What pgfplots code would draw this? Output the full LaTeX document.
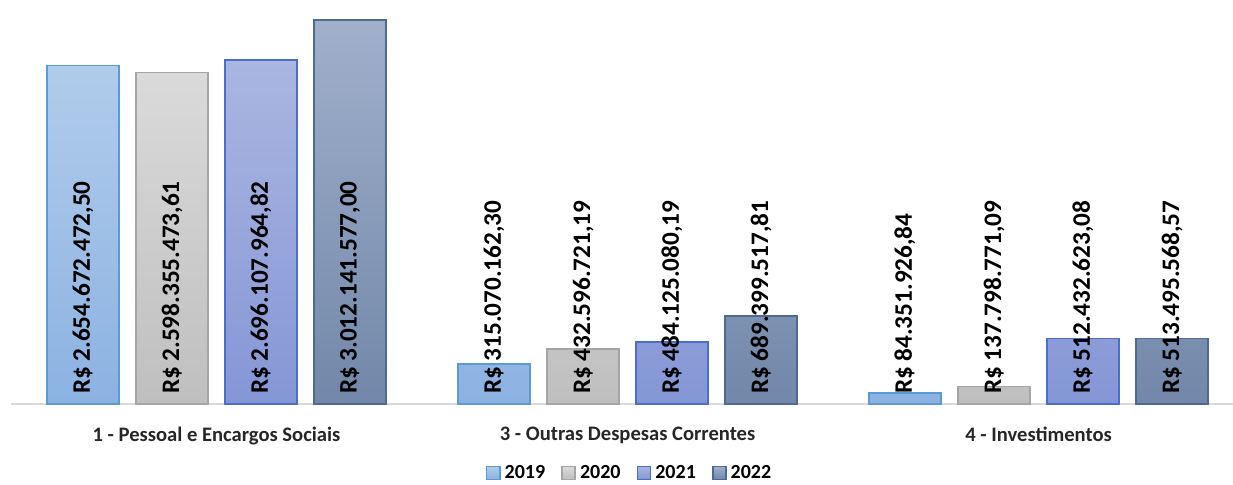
\documentclass[border=0pt]{standalone}
\usepackage{fontspec}
\setmainfont{Carlito}
\usepackage{pgfplots}
\pgfplotsset{compat=1.18}
\definecolor{t19}{HTML}{B0CCEB}\definecolor{b19}{HTML}{8CB2E2}\definecolor{d19}{HTML}{5B9BD5}
\definecolor{t20}{HTML}{DADADA}\definecolor{b20}{HTML}{BFBFBF}\definecolor{d20}{HTML}{A5A5A5}
\definecolor{t21}{HTML}{AAB6E1}\definecolor{b21}{HTML}{8596D6}\definecolor{d21}{HTML}{4A6FCA}
\definecolor{t22}{HTML}{A0B0CB}\definecolor{b22}{HTML}{7287A9}\definecolor{d22}{HTML}{4D6A92}
\begin{document}
\begin{tikzpicture}
\begin{axis}[
  scale only axis,
  width=611pt, height=194.5pt,
  xmin=-0.5, xmax=2.473,
  ymin=0, ymax=3.051e9,
  axis x line*=bottom,
  axis y line=none,
  x axis line style={draw=black!15, line width=0.8pt, -},
  xtick={0,1,2},
  xticklabels={1 - Pessoal e Encargos Sociais, 3 - Outras Despesas Correntes, 4 - Investimentos},
  xtick style={draw=none},
  xticklabel style={font=\fontsize{10.3}{12}\selectfont\bfseries, text=black!85, yshift=-8pt},
  clip=false,
  legend columns=4,
  legend style={draw=none, at={(0.507,-0.135)}, anchor=north, font=\fontsize{10}{12}\selectfont\bfseries,
    /tikz/every even column/.append style={column sep=6pt}},
  legend image code/.code={\draw[#1] (0pt,-3.3pt) rectangle (6.6pt,3.3pt);},
  every node near coord/.append style={rotate=90, anchor=west, font=\fontsize{12.6}{14}\selectfont\bfseries, text=black, inner sep=1pt},
]
\addplot[ybar, bar width=0.175, bar shift=-0.325, draw=d19, line width=0.8pt, top color=t19, bottom color=b19] coordinates {(0,2654672472.50) (1,315070162.30) (2,84351926.84)};
\addlegendentry{2019}
\addplot[ybar, bar width=0.175, bar shift=-0.108, draw=d20, line width=0.8pt, top color=t20, bottom color=b20] coordinates {(0,2598355473.61) (1,432596721.19) (2,137798771.09)};
\addlegendentry{2020}
\addplot[ybar, bar width=0.175, bar shift=0.108, draw=d21, line width=0.8pt, top color=t21, bottom color=b21] coordinates {(0,2696107964.82) (1,484125080.19) (2,512432623.08)};
\addlegendentry{2021}
\addplot[ybar, bar width=0.175, bar shift=0.325, draw=d22, line width=0.8pt, top color=t22, bottom color=b22] coordinates {(0,3012141577.00) (1,689399517.81) (2,513495568.57)};
\addlegendentry{2022}
\addplot[draw=none, mark=none, forget plot, nodes near coords, point meta=explicit symbolic] coordinates {
 (-0.325,0.06e9) [R\$ 2.654.672.472,50]
 (-0.108,0.06e9) [R\$ 2.598.355.473,61]
 (0.108,0.06e9) [R\$ 2.696.107.964,82]
 (0.325,0.06e9) [R\$ 3.012.141.577,00]
 (0.675,0.06e9) [R\$ 315.070.162,30]
 (0.892,0.06e9) [R\$ 432.596.721,19]
 (1.108,0.06e9) [R\$ 484.125.080,19]
 (1.325,0.06e9) [R\$ 689.399.517,81]
 (1.675,0.06e9) [R\$ 84.351.926,84]
 (1.892,0.06e9) [R\$ 137.798.771,09]
 (2.108,0.06e9) [R\$ 512.432.623,08]
 (2.325,0.06e9) [R\$ 513.495.568,57]
};
\end{axis}
\pgfresetboundingbox
\path[use as bounding box] (-5.5pt,-40.5pt) rectangle (611pt,202pt);
\end{tikzpicture}
\end{document}
